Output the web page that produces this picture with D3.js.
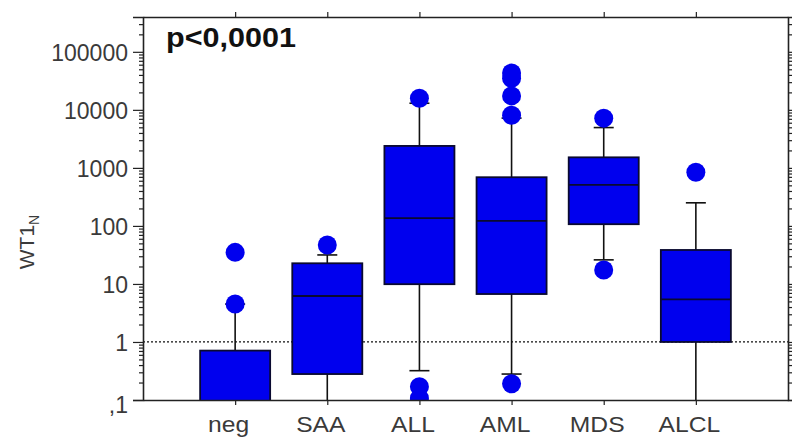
<!DOCTYPE html>
<html>
<head>
<meta charset="utf-8">
<script src="https://cdn.jsdelivr.net/npm/d3@7"></script>
<style>
  body { margin: 0; background: #fff; }
  svg { display: block; font-family: Arial, "Liberation Sans", sans-serif; }
</style>
</head>
<body>
<div id="chart"></div>
<script>
// box plot values (log scale)
const categories = ["neg", "SAA", "ALL", "AML", "MDS", "ALCL"];
const q1Values = [0.01, 0.28, 9.9, 6.7, 107, 1.0];
const medianValues = [0.05, 6.2, 136, 122, 510, 5.4];
const q3Values = [0.71, 22.7, 2390, 690, 1520, 38.5];
const whiskerLow = [0.01, 0.01, 0.32, 0.28, 26, 0.01];
const whiskerHigh = [4.5, 31.6, 13000, 7200, 4950, 250];
const outliers = [
    [35, 4.5],
    [47],
    [15800, 0.17, 0.107],
    [43000, 35000, 17400, 8100, 0.19],
    [7200, 17.4],
    [840]
];
const majorTicks = [0.1, 1, 10, 100, 1000, 10000, 100000];
const majorLabels = [",1", "1", "10", "100", "1000", "10000", "100000"];
const pLabel = "p<0,0001";

const width = 792, height = 437;
const margin = { top: 17, right: 4, bottom: 37, left: 143 };
const plotRight = width - margin.right;
const plotBottom = height - margin.bottom;

const blue = "#0000ee";
const dark = "#0a0a30";

const svg = d3.select("#chart").append("svg")
    .attr("width", width)
    .attr("height", height);

const x = d3.scalePoint()
    .domain(categories)
    .range([margin.left, plotRight])
    .padding(1);

const y = d3.scaleLog()
    .domain([0.1, Math.pow(10, 5.6)])
    .range([plotBottom, margin.top]);

// minor ticks 2..9 per decade
const minorTicks = [];
for (let e = -1; e <= 5; e++) {
    for (let m = 2; m <= 9; m++) {
        const v = m * Math.pow(10, e);
        if (v < y.domain()[1]) minorTicks.push(v);
    }
}

svg.append("defs").append("clipPath").attr("id", "plotclip")
    .append("rect")
    .attr("x", margin.left)
    .attr("y", margin.top)
    .attr("width", plotRight - margin.left)
    .attr("height", plotBottom - margin.top);

// dotted reference line at 1
svg.append("line")
    .attr("x1", margin.left).attr("x2", plotRight)
    .attr("y1", y(1)).attr("y2", y(1))
    .attr("stroke", "#111")
    .attr("stroke-width", 1.3)
    .attr("stroke-dasharray", "2,2");

const boxWidth = x.step() * 0.76;
const capWidth = 20;

const plot = svg.append("g").attr("clip-path", "url(#plotclip)");

const groups = plot.selectAll("g.box")
    .data(categories.map((c, i) => ({
        cat: c, q1: q1Values[i], med: medianValues[i], q3: q3Values[i],
        lo: whiskerLow[i], hi: whiskerHigh[i], out: outliers[i]
    })))
    .enter().append("g")
    .attr("class", "box");

// whiskers
groups.append("line")
    .attr("x1", d => x(d.cat)).attr("x2", d => x(d.cat))
    .attr("y1", d => y(d.q3)).attr("y2", d => y(d.hi))
    .attr("stroke", "#111").attr("stroke-width", 1.6);
groups.append("line")
    .attr("x1", d => x(d.cat)).attr("x2", d => x(d.cat))
    .attr("y1", d => y(d.q1)).attr("y2", d => y(d.lo))
    .attr("stroke", "#111").attr("stroke-width", 1.6);

// caps
groups.append("line")
    .attr("x1", d => x(d.cat) - capWidth / 2).attr("x2", d => x(d.cat) + capWidth / 2)
    .attr("y1", d => y(d.hi)).attr("y2", d => y(d.hi))
    .attr("stroke", "#111").attr("stroke-width", 1.6);
groups.append("line")
    .attr("x1", d => x(d.cat) - capWidth / 2).attr("x2", d => x(d.cat) + capWidth / 2)
    .attr("y1", d => y(d.lo)).attr("y2", d => y(d.lo))
    .attr("stroke", "#111").attr("stroke-width", 1.6);

// boxes
groups.append("rect")
    .attr("x", d => x(d.cat) - boxWidth / 2)
    .attr("width", boxWidth)
    .attr("y", d => y(d.q3))
    .attr("height", d => y(d.q1) - y(d.q3))
    .attr("fill", blue)
    .attr("stroke", dark)
    .attr("stroke-width", 1.8);

// medians
groups.append("line")
    .attr("x1", d => x(d.cat) - boxWidth / 2).attr("x2", d => x(d.cat) + boxWidth / 2)
    .attr("y1", d => y(d.med)).attr("y2", d => y(d.med))
    .attr("stroke", dark).attr("stroke-width", 1.8);

// outlier dots
groups.selectAll("circle")
    .data(d => d.out.map(v => ({ cat: d.cat, v })))
    .enter().append("circle")
    .attr("cx", d => x(d.cat))
    .attr("cy", d => y(d.v))
    .attr("r", 9.5)
    .attr("fill", blue);

// axes
const axisColor = "#222";
const tickText = "#3a3a3a";

const leftAxis = svg.append("g")
    .attr("transform", `translate(${margin.left},0)`)
    .call(d3.axisLeft(y).tickValues(majorTicks)
        .tickFormat((d, i) => majorLabels[i]).tickSize(10).tickPadding(5));
leftAxis.selectAll("text")
    .attr("font-size", 23)
    .attr("fill", tickText)
    .attr("dy", "0.36em");
leftAxis.select("text").attr("dy", "0.55em");

svg.append("g")
    .attr("transform", `translate(${margin.left},0)`)
    .call(d3.axisLeft(y).tickValues(minorTicks).tickFormat("").tickSize(4))
    .call(g => g.select(".domain").remove());

svg.append("g")
    .attr("transform", `translate(${plotRight},0)`)
    .call(d3.axisRight(y).tickValues(majorTicks.concat(minorTicks)).tickFormat("").tickSize(4));

svg.append("g")
    .attr("transform", `translate(0,${margin.top})`)
    .call(d3.axisTop(x).tickFormat("").tickSize(5).tickSizeOuter(0));

const bottomAxis = svg.append("g")
    .attr("transform", `translate(0,${plotBottom})`)
    .call(d3.axisBottom(x).tickSize(5).tickSizeOuter(0).tickPadding(11));
bottomAxis.selectAll("text")
    .attr("font-size", 22)
    .attr("fill", tickText)
    .attr("dx", -7)
    .each(function () {
        // labels in the original are drawn a little wider than the font
        const len = this.getComputedTextLength();
        d3.select(this).attr("textLength", len * 1.12)
            .attr("lengthAdjust", "spacingAndGlyphs");
    });

svg.selectAll(".domain").attr("stroke", axisColor).attr("stroke-width", 1.6);
svg.selectAll(".tick line").attr("stroke", axisColor).attr("stroke-width", 1.2);

// y axis title with subscript
const yTitle = svg.append("text")
    .attr("transform", "translate(34,242) rotate(-90)")
    .attr("text-anchor", "middle")
    .attr("font-size", 21)
    .attr("fill", tickText);
yTitle.append("tspan").text("WT1");
yTitle.append("tspan").text("N")
    .attr("font-size", 14)
    .attr("dy", 5);

// p value annotation
svg.append("text")
    .attr("x", 166)
    .attr("y", 47)
    .attr("font-size", 27)
    .attr("font-weight", "bold")
    .attr("fill", "#111")
    .attr("textLength", 130)
    .attr("lengthAdjust", "spacingAndGlyphs")
    .text(pLabel);
</script>
</body>
</html>
